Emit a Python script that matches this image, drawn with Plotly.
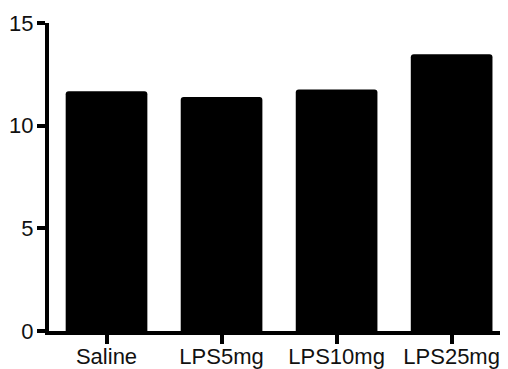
import plotly.graph_objects as go

categories = ["Saline", "LPS5mg", "LPS10mg", "LPS25mg"]
values = [11.68, 11.40, 11.76, 13.48]
y_ticks = [0, 5, 10, 15]

fig = go.Figure(go.Bar(
    x=categories, y=values,
    marker=dict(color="#000000", line=dict(width=0), cornerradius=3),
))

font = dict(family="Liberation Sans, Arial, sans-serif", size=22, color="#111111")

# page body has an 8px default margin, so the figure is sized to fit the window
fig.update_layout(
    width=500, height=361,
    margin=dict(l=41, r=0, t=15, b=38, pad=0),
    plot_bgcolor="white", paper_bgcolor="white",
    bargap=0.29, showlegend=False, font=font,
)
fig.update_xaxes(
    range=[-0.5, 3.49], showgrid=False, zeroline=False, automargin=False,
    showline=True, linecolor="black", linewidth=4,
    ticks="outside", ticklen=9, tickwidth=4, tickcolor="black",
    tickfont=font, ticklabelstandoff=-6,
)
fig.update_yaxes(
    range=[0, 15], tickvals=y_ticks, showgrid=False, zeroline=False, automargin=False,
    showline=True, linecolor="black", linewidth=4,
    ticks="outside", ticklen=8, tickwidth=4, tickcolor="black",
    tickfont=font, ticklabelstandoff=-1,
)

fig.write_html("out.html")
